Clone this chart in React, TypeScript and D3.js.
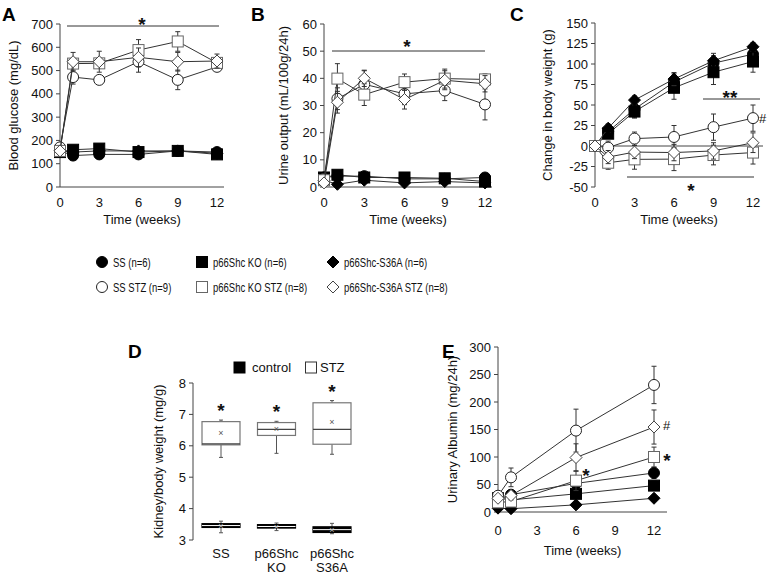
import * as d3 from "d3";

const FONT = "'Liberation Sans', Arial, Helvetica, sans-serif";

// group order: SS, KO, S36A, SS STZ, KO STZ, S36A STZ
const GROUPS = ["SS", "p66Shc KO", "p66Shc-S36A", "SS STZ", "p66Shc KO STZ", "p66Shc-S36A STZ"];
const GROUP_N = [6, 6, 6, 9, 8, 8];
const SHAPES = ["circle", "square", "diamond", "circle", "square", "diamond"];
const FILLED = [true, true, true, false, false, false];

const WEEKS = [0, 1, 3, 6, 9, 12];
const WEEKS_E = [0, 1, 6, 12];
const X_TICKS = [0, 3, 6, 9, 12];

const glucose = [
  [155, 135, 140, 140, 155, 150],
  [150, 160, 165, 150, 155, 140],
  [155, 150, 155, 155, 155, 145],
  [170, 472, 460, 538, 460, 516],
  [155, 530, 531, 588, 625, 533],
  [155, 538, 538, 557, 538, 541],
];
const glucoseErr = [
  [6, 6, 6, 6, 6, 6],
  [6, 6, 6, 6, 6, 6],
  [6, 6, 6, 6, 6, 6],
  [10, 30, 15, 45, 42, 15],
  [10, 20, 20, 45, 42, 20],
  [10, 40, 45, 40, 40, 30],
];

const urine = [
  [3.5, 4, 4, 3, 3, 3.5],
  [3.5, 4.5, 3.5, 3.5, 3.2, 2],
  [2.5, 1, 2.5, 1.5, 2, 1.5],
  [3, 32.5, 37.8, 34.3, 35.5, 30.4],
  [2.5, 39.9, 34, 38.6, 39.9, 39.6],
  [1.5, 31.2, 40, 32.2, 39.3, 38],
];
const urineErr = [
  [0.5, 0.6, 0.5, 0.5, 0.5, 0.5],
  [0.5, 0.6, 0.5, 0.5, 0.5, 0.5],
  [0.5, 0.6, 0.5, 0.5, 0.5, 0.5],
  [1, 4, 5, 4, 3.7, 5.7],
  [1, 5.5, 4, 3, 3.5, 2],
  [1, 4, 3, 3.5, 3.5, 3],
];

const weightChange = [
  [0, 17.5, 45, 78, 101, 112],
  [0, 15, 42, 71, 90, 103],
  [0, 21.7, 56, 81.6, 104, 121],
  [0, -2, 9, 11, 23, 34],
  [0, -20.4, -16.3, -16, -11, -8],
  [0, -13.5, -7.4, -8, -6, 4],
];
const weightChangeErr = [
  [0, 5, 10, 10, 12, 12],
  [0, 5, 8, 14, 15, 13],
  [0, 5, 5, 8, 6, 5],
  [0, 8, 8, 14, 16, 16],
  [0, 8, 12, 14, 12, 14],
  [0, 8, 8, 10, 10, 12],
];

const albumin = [
  [20, 31.5, 52, 71],
  [25, 22, 33, 48],
  [7, 6, 13, 25],
  [29.6, 63, 148, 231],
  [17.5, 19, 57, 100],
  [25, 30, 99, 154.5],
];
const albuminErr = [
  [4, 5, 10, 10],
  [4, 5, 8, 8],
  [2, 2, 4, 5],
  [5, 17, 39, 34],
  [4, 6, 18, 18],
  [5, 8, 25, 31],
];

// panel D: kidney/body weight box plots
const BOX_CATS = [["SS"], ["p66Shc", "KO"], ["p66Shc", "S36A"]];
const boxStz = [
  { low: 5.63, q1: 6.03, med: 6.06, q3: 6.77, high: 6.82, mean: 6.4 },
  { low: 5.76, q1: 6.33, med: 6.52, q3: 6.74, high: 6.78, mean: 6.53 },
  { low: 5.73, q1: 6.05, med: 6.52, q3: 7.37, high: 7.44, mean: 6.75 },
];
const boxCtrl = [
  { low: 3.23, q1: 3.4, med: 3.46, q3: 3.52, high: 3.6, mean: 3.44 },
  { low: 3.3, q1: 3.38, med: 3.43, q3: 3.49, high: 3.54, mean: 3.42 },
  { low: 3.2, q1: 3.24, med: 3.33, q3: 3.42, high: 3.53, mean: 3.32 },
];

const DRAW_ORDER = [0, 1, 2, 3, 4, 5];

function Marker({ shape, filled, x, y }: { shape: string; filled: boolean; x: number; y: number }) {
  const fill = filled ? "#000" : "#fff";
  if (shape === "circle") {
    return <circle cx={x} cy={y} r={5.5} fill={fill} stroke={filled ? "#000" : "#222"} strokeWidth={1} />;
  }
  if (shape === "square") {
    return <rect x={x - 5.5} y={y - 5.5} width={11} height={11} fill={fill} stroke={filled ? "#000" : "#666"} strokeWidth={1} />;
  }
  const s = 6;
  return (
    <path
      d={`M${x},${y - s}L${x + s},${y}L${x},${y + s}L${x - s},${y}Z`}
      fill={fill}
      stroke={filled ? "#000" : "#444"}
      strokeWidth={1}
    />
  );
}

type LinePanelProps = {
  xRange: [number, number];
  axisEnd: number;
  yDomain: [number, number];
  yRange: [number, number];
  yTicks: number[];
  xAxisAt: number;
  tickLabelY: number;
  titleY: number;
  yTitle: string;
  yTitleX: number;
  weeks: number[];
  means: number[][];
  errs: number[][];
};

function LinePanel(p: LinePanelProps) {
  const x = d3.scaleLinear().domain([0, 12]).range(p.xRange);
  const y = d3.scaleLinear().domain(p.yDomain).range(p.yRange);
  const line = d3
    .line<number>()
    .x((_, i) => x(p.weeks[i]))
    .y((d) => y(d));
  const x0 = p.xRange[0];
  const yMid = (p.yRange[0] + p.yRange[1]) / 2;
  return (
    <g fontFamily={FONT}>
      <line x1={x0} x2={x0} y1={y(p.yDomain[0])} y2={y(p.yDomain[1])} stroke="#444" />
      {p.yTicks.map((t) => (
        <g key={t}>
          <line x1={x0 - 4} x2={x0} y1={y(t)} y2={y(t)} stroke="#444" />
          <text x={x0 - 7} y={y(t)} dy="0.35em" textAnchor="end" fontSize={13} fill="#111">
            {t}
          </text>
        </g>
      ))}
      <line x1={x0} x2={p.axisEnd} y1={y(p.xAxisAt)} y2={y(p.xAxisAt)} stroke="#444" />
      {X_TICKS.map((t) => (
        <text key={t} x={x(t)} y={p.tickLabelY} dy="0.35em" textAnchor="middle" fontSize={13} fill="#111">
          {t}
        </text>
      ))}
      <text x={(x0 + p.axisEnd) / 2} y={p.titleY} dy="0.35em" textAnchor="middle" fontSize={13} fill="#111">
        Time (weeks)
      </text>
      <text
        transform={`translate(${p.yTitleX},${yMid}) rotate(-90)`}
        dy="0.35em"
        textAnchor="middle"
        fontSize={13}
        fill="#111"
      >
        {p.yTitle}
      </text>
      {DRAW_ORDER.map((g) => (
        <g key={g}>
          <path d={line(p.means[g]) ?? ""} fill="none" stroke="#333" strokeWidth={1} />
          {p.means[g].map((v, i) => {
            const e = p.errs[g][i];
            if (!e) return null;
            const cx = x(p.weeks[i]);
            return (
              <g key={i} stroke="#333" strokeWidth={1}>
                <line x1={cx} x2={cx} y1={y(v - e)} y2={y(v + e)} />
                <line x1={cx - 2.5} x2={cx + 2.5} y1={y(v + e)} y2={y(v + e)} />
                <line x1={cx - 2.5} x2={cx + 2.5} y1={y(v - e)} y2={y(v - e)} />
              </g>
            );
          })}
          {p.means[g].map((v, i) => (
            <Marker key={i} shape={SHAPES[g]} filled={FILLED[g]} x={x(p.weeks[i])} y={y(v)} />
          ))}
        </g>
      ))}
    </g>
  );
}

function Star({ x, y, text = "*" }: { x: number; y: number; text?: string }) {
  return (
    <text x={x} y={y} textAnchor="middle" fontSize={19} fontWeight="bold" fontFamily={FONT} fill="#111">
      {text}
    </text>
  );
}

function Letter({ x, y, t }: { x: number; y: number; t: string }) {
  return (
    <text x={x} y={y} fontSize={19} fontWeight="bold" fontFamily={FONT} fill="#000">
      {t}
    </text>
  );
}

function BoxPanel() {
  const y = d3.scaleLinear().domain([3, 8]).range([540, 383]);
  const x = d3.scalePoint<number>().domain([0, 1, 2]).range([221, 332]);
  const bw = 38;
  const x0 = 193;
  const drawBox = (b: typeof boxStz[number], cx: number, ctrl: boolean, key: string) => (
    <g key={key}>
      <line x1={cx} x2={cx} y1={y(b.high)} y2={y(b.q3)} stroke="#555" />
      <line x1={cx} x2={cx} y1={y(b.q1)} y2={y(b.low)} stroke="#555" />
      <line x1={cx - 2} x2={cx + 2} y1={y(b.high)} y2={y(b.high)} stroke="#555" />
      <line x1={cx - 2} x2={cx + 2} y1={y(b.low)} y2={y(b.low)} stroke="#555" />
      <rect
        x={cx - bw / 2}
        y={y(b.q3)}
        width={bw}
        height={y(b.q1) - y(b.q3)}
        fill={ctrl ? "#000" : "#fff"}
        stroke={ctrl ? "#000" : "#777"}
        strokeWidth={1.2}
      />
      <line
        x1={cx - bw / 2}
        x2={cx + bw / 2}
        y1={y(b.med)}
        y2={y(b.med)}
        stroke={ctrl ? "#fff" : "#444"}
        strokeWidth={ctrl ? 1 : 1.2}
      />
      <text x={cx} y={y(b.mean)} dy="0.3em" textAnchor="middle" fontSize={9} fontFamily={FONT} fill={ctrl ? "#bbb" : "#555"}>
        ×
      </text>
    </g>
  );
  return (
    <g fontFamily={FONT}>
      <line x1={x0} x2={x0} y1={y(3)} y2={y(8)} stroke="#444" />
      {[3, 4, 5, 6, 7, 8].map((t) => (
        <g key={t}>
          <line x1={x0 - 4} x2={x0} y1={y(t)} y2={y(t)} stroke="#444" />
          <text x={x0 - 7} y={y(t)} dy="0.35em" textAnchor="end" fontSize={13} fill="#111">
            {t}
          </text>
        </g>
      ))}
      <text transform={`translate(158,${(y(3) + y(8)) / 2}) rotate(-90)`} dy="0.35em" textAnchor="middle" fontSize={13} fill="#111">
        Kidney/body weight (mg/g)
      </text>
      {boxCtrl.map((b, i) => drawBox(b, x(i) as number, true, "c" + i))}
      {boxStz.map((b, i) => drawBox(b, x(i) as number, false, "s" + i))}
      {boxStz.map((b, i) => (
        <Star key={i} x={x(i) as number} y={y(b.high) - 3} />
      ))}
      {BOX_CATS.map((lines, i) => (
        <text key={i} x={x(i) as number} y={558} textAnchor="middle" fontSize={13} fill="#111">
          {lines.map((l, j) => (
            <tspan key={j} x={x(i) as number} dy={j === 0 ? 0 : 13.5}>
              {l}
            </tspan>
          ))}
        </text>
      ))}
      <rect x={234} y={362} width={11} height={11} fill="#000" stroke="#000" />
      <text x={252} y={372} fontSize={13} fill="#111">
        control
      </text>
      <rect x={305.5} y={362} width={11} height={11} fill="#fff" stroke="#333" />
      <text x={320} y={372} fontSize={13} fill="#111">
        STZ
      </text>
    </g>
  );
}

function Legend() {
  const cols = [102, 202, 333];
  const rows = [262, 287];
  return (
    <g>
      {GROUPS.map((g, i) => {
        const cx = cols[i % 3];
        const cy = rows[Math.floor(i / 3)];
        return (
          <g key={g}>
            <Marker shape={SHAPES[i]} filled={FILLED[i]} x={cx} y={cy} />
            <text
              transform={`translate(${cx + 11},${cy}) scale(0.76,1)`}
              dy="0.36em"
              fontSize={12.5}
              fontFamily={FONT}
              fill="#111"
            >
              {`${g} (n=${GROUP_N[i]})`}
            </text>
          </g>
        );
      })}
    </g>
  );
}

export default function App() {
  return (
    <svg
      width={767}
      height={576}
      style={{ position: "absolute", left: 0, top: 0, background: "#fff" }}
    >
      <Letter x={2} y={21} t="A" />
      <LinePanel
        xRange={[60, 217]}
        axisEnd={224}
        yDomain={[0, 700]}
        yRange={[187, 24]}
        yTicks={[0, 100, 200, 300, 400, 500, 600, 700]}
        xAxisAt={0}
        tickLabelY={202}
        titleY={219}
        yTitle="Blood glucose (mg/dL)"
        yTitleX={13}
        weeks={WEEKS}
        means={glucose}
        errs={glucoseErr}
      />
      <line x1={67} x2={219} y1={26} y2={26} stroke="#333" />
      <Star x={142} y={31} />

      <Letter x={251} y={21} t="B" />
      <LinePanel
        xRange={[324, 485]}
        axisEnd={492}
        yDomain={[0, 60]}
        yRange={[187, 24]}
        yTicks={[0, 10, 20, 30, 40, 50, 60]}
        xAxisAt={0}
        tickLabelY={202}
        titleY={219}
        yTitle="Urine output (mL/100g/24h)"
        yTitleX={283}
        weeks={WEEKS}
        means={urine}
        errs={urineErr}
      />
      <line x1={332} x2={485} y1={51} y2={51} stroke="#333" />
      <Star x={407} y={53} />

      <Letter x={510} y={21} t="C" />
      <LinePanel
        xRange={[595, 753]}
        axisEnd={763}
        yDomain={[-50, 150]}
        yRange={[187, 23]}
        yTicks={[-50, -25, 0, 25, 50, 75, 100, 125, 150]}
        xAxisAt={0}
        tickLabelY={202}
        titleY={219}
        yTitle="Change in body weight (g)"
        yTitleX={547}
        weeks={WEEKS}
        means={weightChange}
        errs={weightChangeErr}
      />
      <line x1={703} x2={760} y1={99} y2={99} stroke="#333" />
      <Star x={730} y={104} text="**" />
      <line x1={627} x2={754} y1={177} y2={177} stroke="#333" />
      <Star x={691} y={197} />
      <text x={759} y={123} fontSize={13} fontFamily={FONT} fill="#111">
        #
      </text>

      <Legend />

      <Letter x={128} y={358} t="D" />
      <BoxPanel />

      <Letter x={442} y={358} t="E" />
      <LinePanel
        xRange={[498, 654]}
        axisEnd={667}
        yDomain={[0, 300]}
        yRange={[512, 347]}
        yTicks={[0, 50, 100, 150, 200, 250, 300]}
        xAxisAt={0}
        tickLabelY={530}
        titleY={550}
        yTitle="Urinary Albumin (mg/24h)"
        yTitleX={452}
        weeks={WEEKS_E}
        means={albumin}
        errs={albuminErr}
      />
      <Star x={586} y={482} />
      <Star x={667} y={467} />
      <text x={663} y={430} fontSize={13} fontFamily={FONT} fill="#111">
        #
      </text>
    </svg>
  );
}
